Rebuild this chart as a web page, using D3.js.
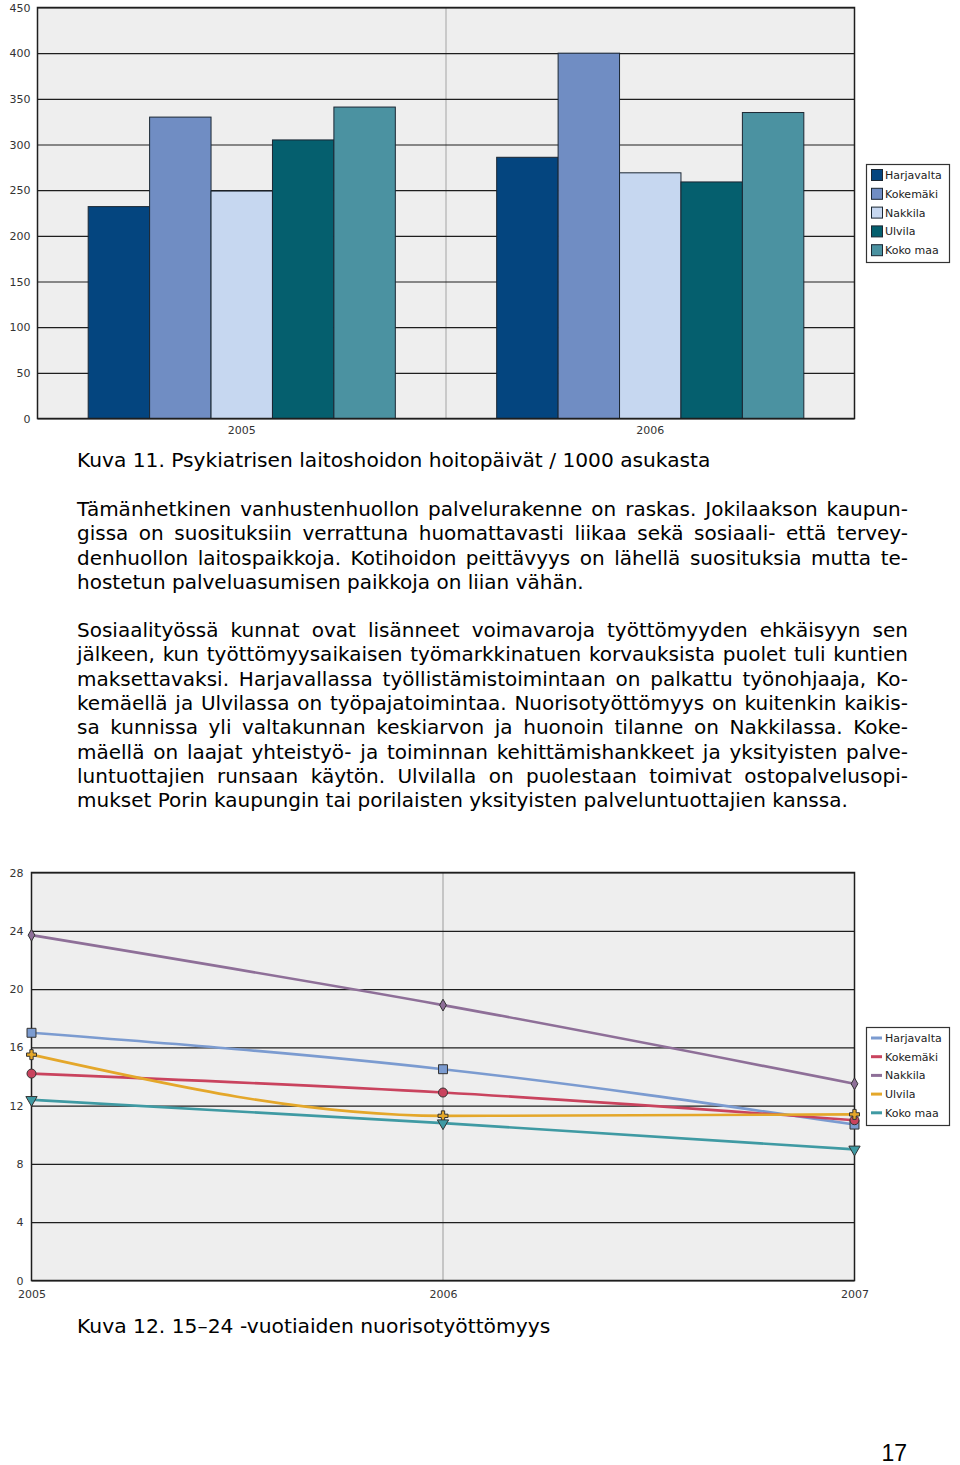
<!DOCTYPE html>
<html><head><meta charset="utf-8">
<script src="https://cdn.jsdelivr.net/npm/d3@7"></script>
<style>body{margin:0;background:#fff}svg{display:block}</style>
</head><body>
<script>
// ---------- data ----------
const barYears = ["2005", "2006"];
const municipalities = ["Harjavalta", "Kokemäki", "Nakkila", "Ulvila", "Koko maa"];
const hoitopaivat2005 = [232, 330, 249, 305, 341];
const hoitopaivat2006 = [286, 400, 269, 259, 335];
const barTicks = [0, 50, 100, 150, 200, 250, 300, 350, 400, 450];

const lineYears = ["2005", "2006", "2007"];
const tyottomyysHarjavalta = [17.0, 14.5, 10.7];
const tyottomyysKokemaki = [14.2, 12.9, 11.0];
const tyottomyysNakkila = [23.7, 18.9, 13.5];
const tyottomyysUlvila = [15.5, 11.3, 11.4];
const tyottomyysKokoMaa = [12.4, 10.8, 9.0];
const lineTicks = [0, 4, 8, 12, 16, 20, 24, 28];

const caption11 = "Kuva 11. Psykiatrisen laitoshoidon hoitopäivät / 1000 asukasta";
const paragraph1 = [
  "Tämänhetkinen vanhustenhuollon palvelurakenne on raskas. Jokilaakson kaupun-",
  "gissa on suosituksiin verrattuna huomattavasti liikaa sekä sosiaali- että tervey-",
  "denhuollon laitospaikkoja. Kotihoidon peittävyys on lähellä suosituksia mutta te-",
  "hostetun palveluasumisen paikkoja on liian vähän."
];
const paragraph2 = [
  "Sosiaalityössä kunnat ovat lisänneet voimavaroja työttömyyden ehkäisyyn sen",
  "jälkeen, kun työttömyysaikaisen työmarkkinatuen korvauksista puolet tuli kuntien",
  "maksettavaksi. Harjavallassa työllistämistoimintaan on palkattu työnohjaaja, Ko-",
  "kemäellä ja Ulvilassa on työpajatoimintaa. Nuorisotyöttömyys on kuitenkin kaikis-",
  "sa kunnissa yli valtakunnan keskiarvon ja huonoin tilanne on Nakkilassa. Koke-",
  "mäellä on laajat yhteistyö- ja toiminnan kehittämishankkeet ja yksityisten palve-",
  "luntuottajien runsaan käytön. Ulvilalla on puolestaan toimivat ostopalvelusopi-",
  "mukset Porin kaupungin tai porilaisten yksityisten palveluntuottajien kanssa."
];
const caption12 = "Kuva 12. 15–24 -vuotiaiden nuorisotyöttömyys";
const pageNumber = "17";

// ---------- styles ----------
const barColors = ["#04457f", "#708dc3", "#c6d7f0", "#055f6e", "#4b92a1"];
const lineColors = ["#7b9bd0", "#c9435e", "#8e6f98", "#e4a72a", "#3f9aa3"];
const lineSymbols = [d3.symbolSquare, d3.symbolCircle, d3.symbolDiamond, d3.symbolCross, d3.symbolTriangle];
const symbolSizes = [80, 64, 40, 55, 55];
const chartFont = "'DejaVu Sans', Verdana, sans-serif";
const textFont = "'DejaVu Sans', Verdana, sans-serif";

const svg = d3.select("body").append("svg").attr("width", 960).attr("height", 1465);
svg.append("rect").attr("width", 960).attr("height", 1465).attr("fill", "#fff");

// ---------- bar chart ----------
const bL = 37.5, bR = 854.5, bT = 7.5, bB = 418.5;
const bx = d3.scaleBand().domain(barYears).range([bL, bR]);
const bInner = d3.scaleBand().domain(municipalities).range([0, bx.bandwidth()]).paddingInner(0).paddingOuter(0.825);
const by = d3.scaleLinear().domain([0, 450]).range([bB, bT]);
const barSeries = { "2005": hoitopaivat2005, "2006": hoitopaivat2006 };

const g1 = svg.append("g");
g1.append("rect").attr("x", bL).attr("y", bT).attr("width", bR - bL).attr("height", bB - bT).attr("fill", "#eeeeee");
g1.append("line").attr("x1", bx("2006")).attr("x2", bx("2006")).attr("y1", bT).attr("y2", bB)
  .attr("stroke", "#bcbcbc").attr("stroke-width", 1.5);
g1.append("g").attr("transform", `translate(${bL},0)`)
  .call(d3.axisLeft(by).tickValues(barTicks).tickSize(-(bR - bL)).tickFormat(""))
  .call(g => g.select(".domain").remove())
  .selectAll("line").attr("stroke", "#1e1e1e").attr("stroke-width", 1.2);

barYears.forEach(yr => {
  g1.append("g").attr("transform", `translate(${bx(yr)},0)`)
    .selectAll("rect").data(barSeries[yr]).join("rect")
    .attr("x", (d, i) => bInner(municipalities[i]))
    .attr("width", bInner.bandwidth())
    .attr("y", d => by(d))
    .attr("height", d => by(0) - by(d))
    .attr("fill", (d, i) => barColors[i])
    .attr("stroke", "#1b2733").attr("stroke-width", 1);
});
g1.append("rect").attr("x", bL).attr("y", bT).attr("width", bR - bL).attr("height", bB - bT)
  .attr("fill", "none").attr("stroke", "#1e1e1e").attr("stroke-width", 1.5);

g1.append("g").attr("transform", `translate(${bL - 1},0)`)
  .call(d3.axisLeft(by).tickValues(barTicks).tickSize(0).tickPadding(6))
  .call(g => g.select(".domain").remove())
  .selectAll("text").style("font-family", chartFont).style("font-size", "11px").attr("fill", "#333");
g1.append("g").attr("transform", `translate(0,${bB})`)
  .call(d3.axisBottom(bx).tickSize(0).tickPadding(8))
  .call(g => g.select(".domain").remove())
  .selectAll("text").style("font-family", chartFont).style("font-size", "11px").attr("fill", "#333");

// bar legend
const lg1 = svg.append("g");
lg1.append("rect").attr("x", 866.5).attr("y", 164.5).attr("width", 83).attr("height", 98)
  .attr("fill", "#fff").attr("stroke", "#333").attr("stroke-width", 1.2);
municipalities.forEach((m, i) => {
  const cy = 175 + i * 18.8;
  lg1.append("rect").attr("x", 871.5).attr("y", cy - 5.5).attr("width", 11).attr("height", 11)
    .attr("fill", barColors[i]).attr("stroke", "#1b2733").attr("stroke-width", 1);
  lg1.append("text").attr("x", 885).attr("y", cy + 4).text(m)
    .style("font-family", chartFont).style("font-size", "11px").attr("fill", "#222");
});

// ---------- texts ----------
function textLine(t, x, y, size, font) {
  return svg.append("text").attr("x", x).attr("y", y).text(t)
    .style("font-family", font).style("font-size", size + "px").attr("fill", "#000");
}
function justified(lines, y0, step) {
  lines.forEach((t, i) => {
    const el = textLine(t, 77, y0 + i * step, 20, textFont);
    if (i < lines.length - 1) {
      const natural = el.node().getComputedTextLength();
      const spaces = (t.match(/ /g) || []).length;
      if (spaces > 0) el.attr("word-spacing", (831 - natural) / spaces);
    }
  });
}
textLine(caption11, 77, 467, 20.2, textFont);
justified(paragraph1, 516, 24.3);
justified(paragraph2, 637, 24.3);
textLine(caption12, 77, 1333, 20.3, textFont);
textLine(pageNumber, 907, 1461, 23, "'Liberation Sans', Arial, sans-serif").attr("text-anchor", "end");

// ---------- line chart ----------
const lL = 31.5, lR = 854.5, lT = 872.5, lB = 1280.5;
const lx = d3.scalePoint().domain(lineYears).range([lL, lR]);
const ly = d3.scaleLinear().domain([0, 28]).range([lB, lT]);
const lineSeries = [tyottomyysHarjavalta, tyottomyysKokemaki, tyottomyysNakkila, tyottomyysUlvila, tyottomyysKokoMaa];

const g2 = svg.append("g");
g2.append("rect").attr("x", lL).attr("y", lT).attr("width", lR - lL).attr("height", lB - lT).attr("fill", "#eeeeee");
g2.append("line").attr("x1", lx("2006")).attr("x2", lx("2006")).attr("y1", lT).attr("y2", lB)
  .attr("stroke", "#aaaaaa").attr("stroke-width", 1.2);
g2.append("g").attr("transform", `translate(${lL},0)`)
  .call(d3.axisLeft(ly).tickValues(lineTicks).tickSize(-(lR - lL)).tickFormat(""))
  .call(g => g.select(".domain").remove())
  .selectAll("line").attr("stroke", "#1e1e1e").attr("stroke-width", 1.2);
g2.append("rect").attr("x", lL).attr("y", lT).attr("width", lR - lL).attr("height", lB - lT)
  .attr("fill", "none").attr("stroke", "#1e1e1e").attr("stroke-width", 1.5);

const lineGen = d3.line().x((d, i) => lx(lineYears[i])).y(d => ly(d)).curve(d3.curveMonotoneX);
lineSeries.forEach((vals, s) => {
  g2.append("path").attr("d", lineGen(vals)).attr("fill", "none")
    .attr("stroke", lineColors[s]).attr("stroke-width", 2.6).attr("stroke-linejoin", "round");
});
lineSeries.forEach((vals, s) => {
  g2.append("g").selectAll("path").data(vals).join("path")
    .attr("d", d3.symbol().type(lineSymbols[s]).size(symbolSizes[s]))
    .attr("transform", (d, i) => `translate(${lx(lineYears[i])},${ly(d)})` + (s === 4 ? " rotate(180)" : ""))
    .attr("fill", lineColors[s]).attr("stroke", "#333").attr("stroke-width", 1);
});

g2.append("g").attr("transform", `translate(${lL},0)`)
  .call(d3.axisLeft(ly).tickValues(lineTicks).tickSize(0).tickPadding(8))
  .call(g => g.select(".domain").remove())
  .selectAll("text").style("font-family", chartFont).style("font-size", "11px").attr("fill", "#333");
g2.append("g").attr("transform", `translate(0,${lB})`)
  .call(d3.axisBottom(lx).tickSize(0).tickPadding(10))
  .call(g => g.select(".domain").remove())
  .selectAll("text").style("font-family", chartFont).style("font-size", "11px").attr("fill", "#333");

// line legend
const lg2 = svg.append("g");
lg2.append("rect").attr("x", 866.5).attr("y", 1027.5).attr("width", 83).attr("height", 98)
  .attr("fill", "#fff").attr("stroke", "#333").attr("stroke-width", 1.2);
municipalities.forEach((m, i) => {
  const cy = 1038 + i * 18.7;
  lg2.append("line").attr("x1", 871).attr("x2", 882).attr("y1", cy).attr("y2", cy)
    .attr("stroke", lineColors[i]).attr("stroke-width", 3);
  lg2.append("text").attr("x", 885).attr("y", cy + 4).text(m)
    .style("font-family", chartFont).style("font-size", "11px").attr("fill", "#222");
});
</script>
</body></html>
